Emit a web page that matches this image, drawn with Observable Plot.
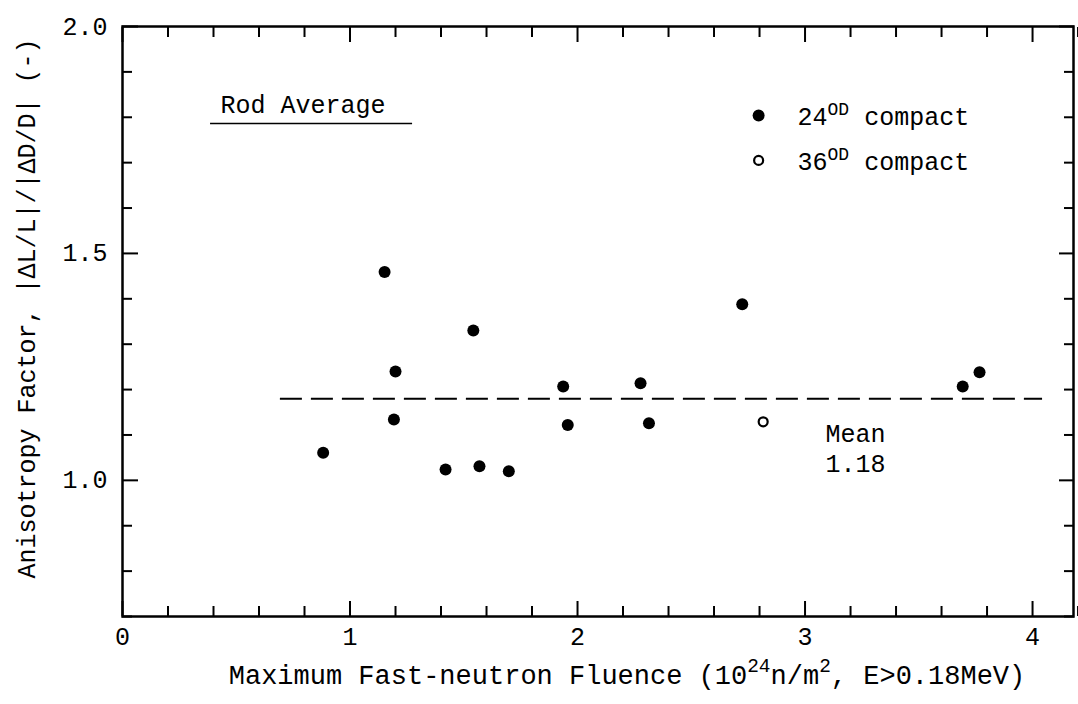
<!DOCTYPE html>
<html>
<head>
<meta charset="utf-8">
<script src="https://cdn.jsdelivr.net/npm/d3@7"></script>
<script src="https://cdn.jsdelivr.net/npm/@observablehq/plot@0.6"></script>
<style>
  html, body { margin: 0; padding: 0; background: #fff; }
  #chart { width: 1078px; height: 704px; }
</style>
</head>
<body>
<div id="chart"></div>
<script>
// ---- data ----
const fluence24 = [0.882, 1.152, 1.200, 1.193, 1.420, 1.542, 1.569, 1.698, 1.937, 1.957, 2.277, 2.314, 2.724, 3.693, 3.767];
const factor24  = [1.061, 1.459, 1.240, 1.134, 1.024, 1.330, 1.031, 1.020, 1.207, 1.122, 1.214, 1.126, 1.388, 1.207, 1.238];
const fluence36 = [2.816];
const factor36  = [1.129];
const meanValue = 1.18;
const meanRange = [0.694, 4.044];

const xMajorTicks = [0, 1, 2, 3, 4];
const xMinorTicks = [0.2, 0.4, 0.6, 0.8, 1.2, 1.4, 1.6, 1.8, 2.2, 2.4, 2.6, 2.8, 3.2, 3.4, 3.6, 3.8, 4.2];
const yMajorTicks = [1.0, 1.5, 2.0];
const yMinorTicks = [0.7, 0.8, 0.9, 1.1, 1.2, 1.3, 1.4, 1.6, 1.7, 1.8, 1.9];

const legendLabels = ["24^{OD} compact", "36^{OD} compact"];
const xTitle = "Maximum Fast-neutron Fluence (10^{24}n/m^{2}, E>0.18MeV)";
const yTitle = "Anisotropy Factor, |ΔL/L|/|ΔD/D| (-)";
const rodLabel = "Rod Average";

// ---- build tables ----
const pts24 = fluence24.map((x, i) => ({x, y: factor24[i]}));
const pts36 = fluence36.map((x, i) => ({x, y: factor36[i]}));
const meanRow = [{y: meanValue, x1: meanRange[0], x2: meanRange[1]}];

const FONT = "'Liberation Mono', 'DejaVu Sans Mono', monospace";
const ax = {strokeWidth: 2, label: null};

const plot = Plot.plot({
  width: 1078,
  height: 704,
  marginLeft: 122,
  marginRight: 5,
  marginTop: 26,
  marginBottom: 88,
  style: {fontFamily: FONT, fontSize: "25px", color: "black", background: "white", overflow: "visible"},
  x: {domain: [0, 4.18]},
  y: {domain: [0.7, 2.0]},
  marks: [
    // axes: ticks inward on all four sides
    Plot.axisX(xMajorTicks, {...ax, anchor: "bottom", tickSize: -15, tickPadding: 26, fontSize: 25, tickFormat: d => String(d)}),
    Plot.axisX(xMinorTicks, {...ax, anchor: "bottom", tickSize: -10, tickFormat: () => ""}),
    Plot.axisX(xMajorTicks, {...ax, anchor: "top", tickSize: -15, tickFormat: () => ""}),
    Plot.axisX(xMinorTicks, {...ax, anchor: "top", tickSize: -10, tickFormat: () => ""}),
    Plot.axisY(yMajorTicks, {...ax, anchor: "left", tickSize: -16, tickPadding: 31, fontSize: 25, tickFormat: d => d.toFixed(1)}),
    Plot.axisY(yMinorTicks, {...ax, anchor: "left", tickSize: -10, tickFormat: () => ""}),
    Plot.axisY(yMajorTicks, {...ax, anchor: "right", tickSize: -15, tickFormat: () => ""}),
    Plot.axisY(yMinorTicks, {...ax, anchor: "right", tickSize: -10, tickFormat: () => ""}),
    Plot.frame({stroke: "black", strokeWidth: 2.5}),

    // mean line
    Plot.ruleY(meanRow, {y: "y", x1: "x1", x2: "x2", stroke: "black", strokeWidth: 2, strokeDasharray: "22,9"}),
    Plot.text([`Mean\n${meanValue.toFixed(2)}`], {x: 3.09, y: 1.072, textAnchor: "start", lineAnchor: "middle", lineHeight: 1.2, fontSize: 25}),

    // data
    Plot.dot(pts24, {x: "x", y: "y", r: 6, fill: "black", stroke: null}),
    Plot.dot(pts36, {x: "x", y: "y", r: 4.5, fill: "white", stroke: "black", strokeWidth: 2.2}),

    // legend
    Plot.dot([{x: 2.796, y: 1.804}], {x: "x", y: "y", r: 6, fill: "black", stroke: null}),
    Plot.dot([{x: 2.796, y: 1.705}], {x: "x", y: "y", r: 4.5, fill: "white", stroke: "black", strokeWidth: 2.2}),
    Plot.text([legendLabels[0]], {x: 2.967, y: 1.800, textAnchor: "start", fontSize: 25}),
    Plot.text([legendLabels[1]], {x: 2.967, y: 1.701, textAnchor: "start", fontSize: 25}),

    // rod average label
    Plot.text([rodLabel], {x: 0.431, y: 1.828, textAnchor: "start", fontSize: 25}),
    Plot.ruleY([{y: 1.786, x1: 0.387, x2: 1.275}], {y: "y", x1: "x1", x2: "x2", stroke: "black", strokeWidth: 1.5}),

    // axis titles
    Plot.text([xTitle], {frameAnchor: "bottom", textAnchor: "middle", dx: 29, dy: 67, fontSize: 27}),
    Plot.text([yTitle], {frameAnchor: "left", textAnchor: "middle", rotate: -90, dx: -96, dy: -13, fontSize: 25})
  ]
});

document.getElementById("chart").appendChild(plot);

// superscript handling: turn ^{...} into raised tspans
d3.select(plot).selectAll("text").each(function () {
  const t = this.textContent;
  if (!t.includes("^{")) return;
  const fs = parseFloat(getComputedStyle(this).fontSize) || 25;
  const el = d3.select(this);
  el.text(null);
  const parts = t.split(/(\^\{[^}]*\})/);
  let raised = false;
  for (const p of parts) {
    if (!p) continue;
    const m = p.match(/^\^\{([^}]*)\}$/);
    if (m) {
      el.append("tspan").attr("dy", raised ? 0 : -0.42 * fs).attr("font-size", fs * 0.72).text(m[1]);
      raised = true;
    } else {
      el.append("tspan").attr("dy", raised ? 0.42 * fs : 0).text(p);
      raised = false;
    }
  }
});
</script>
</body>
</html>
